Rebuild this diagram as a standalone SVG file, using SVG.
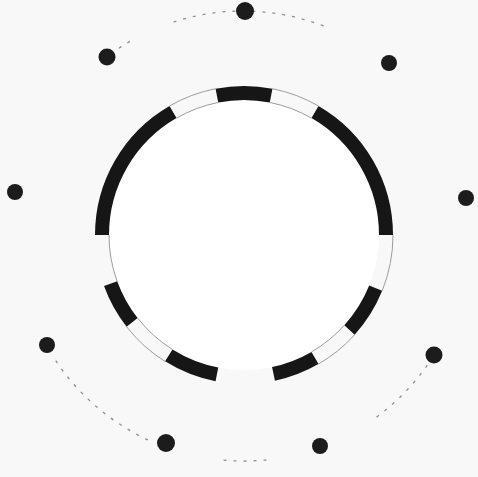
<svg xmlns="http://www.w3.org/2000/svg" width="478" height="477" viewBox="0 0 478 477">
<style>
.seg{fill:none;stroke:#161616;stroke-width:14;stroke-linecap:butt}
.thin{fill:none;stroke:#9c9c9c;stroke-width:1}
.orbit{fill:none;stroke:#8f8f8f;stroke-width:1.3;stroke-dasharray:3 7}
.dot{fill:#1c1c1c}
</style>
<rect width="478" height="477" fill="#f8f8f8"/>
<circle cx="244" cy="235" r="135" fill="#ffffff"/>
<g id="orbit">
<path class="orbit" d="M173.5,22 A225,225 0 0 1 327.3,27.4"/>
<path class="orbit" d="M110.7,54 A225,225 0 0 1 130.5,41.1"/>
<path class="orbit" d="M147.9,439.9 A225,225 0 0 1 54.3,358.5"/>
<path class="orbit" d="M266.5,459.8 A225,225 0 0 1 219.5,459.8"/>
<path class="orbit" d="M427.3,365.1 A225,225 0 0 1 372.1,420.3"/>
</g>
<g id="ring">
<path class="seg" d="M102,235 A142,142 0 0 1 173,112"/>
<path class="seg" d="M216.9,95.6 A142,142 0 0 1 271.1,95.6"/>
<path class="seg" d="M315,112 A142,142 0 0 1 386,235"/>
<path class="seg" d="M375.7,288.2 A142,142 0 0 1 349.5,330"/>
<path class="seg" d="M315,358 A142,142 0 0 1 273.5,373.9"/>
<path class="seg" d="M216.9,374.4 A142,142 0 0 1 168.8,355.4"/>
<path class="seg" d="M132.1,322.4 A142,142 0 0 1 110.6,283.6"/>
<path class="thin" d="M169.5,106 A149,149 0 0 1 215.6,88.7"/>
<path class="thin" d="M176.5,118.1 A135,135 0 0 1 218.2,102.5"/>
<path class="thin" d="M272.4,88.7 A149,149 0 0 1 318.5,106"/>
<path class="thin" d="M269.8,102.5 A135,135 0 0 1 311.5,118.1"/>
<path class="thin" d="M354.7,334.7 A149,149 0 0 1 318.5,364"/>
<path class="thin" d="M344.3,325.3 A135,135 0 0 1 311.5,351.9"/>
<path class="thin" d="M165,361.4 A149,149 0 0 1 126.6,326.7"/>
<path class="thin" d="M172.5,349.5 A135,135 0 0 1 137.6,318.1"/>
<path class="thin" d="M393,235 A149,149 0 0 1 382.2,290.8"/>
<path class="thin" d="M117.1,281.2 A135,135 0 0 1 109,235"/>
</g>
<g id="dots">
<circle class="dot" cx="245" cy="11" r="9"/>
<circle class="dot" cx="107" cy="57" r="8.5"/>
<circle class="dot" cx="389" cy="63" r="8"/>
<circle class="dot" cx="15" cy="192" r="8"/>
<circle class="dot" cx="466" cy="198" r="8"/>
<circle class="dot" cx="47" cy="345" r="8"/>
<circle class="dot" cx="434" cy="355" r="8.5"/>
<circle class="dot" cx="166" cy="443" r="9"/>
<circle class="dot" cx="320" cy="446" r="8"/>
</g>
</svg>
